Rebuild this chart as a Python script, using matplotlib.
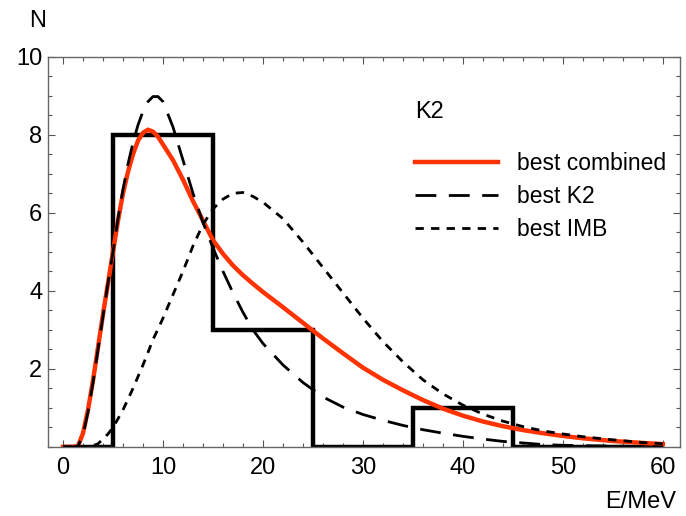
import numpy as np
import matplotlib
matplotlib.use("Agg")
import matplotlib.pyplot as plt
from matplotlib.ticker import MultipleLocator

plt.rcParams['font.family'] = ['Liberation Sans', 'DejaVu Sans']

# energy grid (MeV) for the read-off curves
energy = [0, 1, 1.5, 2, 2.5, 3, 3.5, 4, 4.5, 5, 5.5, 6, 6.5, 7, 7.5, 8, 8.5, 9, 9.5, 10,
          11, 12, 13, 14, 15, 16, 17, 18, 19, 20, 22, 24, 26, 28, 30, 32, 34, 36, 38, 40,
          42, 44, 46, 48, 50, 52, 55, 58, 60]
best_combined = [0, 0, 0.02, 0.35, 0.95, 1.7, 2.55, 3.4, 4.2, 5.0, 5.8, 6.5, 7.05, 7.5, 7.85, 8.05, 8.13, 8.08, 7.95, 7.75,
                 7.35, 6.85, 6.3, 5.8, 5.3, 4.95, 4.65, 4.4, 4.18, 3.97, 3.58, 3.18, 2.78, 2.4, 2.03, 1.72, 1.45, 1.2, 0.98, 0.8,
                 0.65, 0.53, 0.43, 0.35, 0.28, 0.22, 0.15, 0.1, 0.07]
best_k2 = [0, 0, 0.02, 0.3, 0.9, 1.65, 2.5, 3.35, 4.2, 5.0, 5.85, 6.6, 7.25, 7.8, 8.25, 8.6, 8.85, 8.98, 8.98, 8.85,
           8.2, 7.35, 6.5, 5.75, 5.1, 4.5, 3.95, 3.45, 3.0, 2.65, 2.1, 1.65, 1.28, 1.02, 0.83, 0.68, 0.55, 0.44, 0.35, 0.27,
           0.2, 0.14, 0.1, 0.06, 0.04, 0.03, 0.02, 0.01, 0.0]
best_imb = [0, 0, 0, 0, 0.01, 0.03, 0.08, 0.2, 0.33, 0.5, 0.72, 0.95, 1.22, 1.5, 1.8, 2.1, 2.42, 2.75, 3.02, 3.3,
            3.9, 4.5, 5.15, 5.7, 6.1, 6.35, 6.5, 6.52, 6.42, 6.27, 5.85, 5.25, 4.6, 3.95, 3.3, 2.7, 2.18, 1.72, 1.36, 1.07,
            0.84, 0.66, 0.52, 0.41, 0.33, 0.26, 0.18, 0.11, 0.08]

# K2 event histogram
bin_edges = [0, 5, 15, 25, 35, 45, 60]
counts = [0, 8, 3, 0, 1, 0]

fig = plt.figure(figsize=(6.86, 5.16), dpi=100)
ax = fig.add_axes([0.070, 0.134, 0.921, 0.756])

ax.stairs(counts, bin_edges, color='black', lw=3.2, zorder=2)
ax.plot(energy, best_combined, color='#ff3300', lw=3.2, label='best combined', zorder=3)
ax.plot(energy, best_k2, color='black', lw=2, dashes=(7.5, 4.5), label='best K2', zorder=4)
ax.plot(energy, best_imb, color='black', lw=2, dashes=(3, 2.6), label='best IMB', zorder=5)

ax.set_xlim(-1.5, 61.7)
ax.set_ylim(0, 10)
ax.set_xticks([0, 10, 20, 30, 40, 50, 60])
ax.set_yticks([2, 4, 6, 8, 10])
ax.xaxis.set_minor_locator(MultipleLocator(2))
ax.yaxis.set_minor_locator(MultipleLocator(0.5))
ax.tick_params(which='both', direction='in', top=True, right=True, color='#555555', width=0.8,
               labelsize=17)
ax.tick_params(which='major', length=5)
ax.tick_params(which='minor', length=3)
ax.tick_params(axis='x', pad=7)
ax.tick_params(axis='y', pad=4)
for s in ax.spines.values():
    s.set_color('#666666')
    s.set_linewidth(1)

ax.legend(loc='upper left', bbox_to_anchor=(0.605, 0.706), bbox_transform=fig.transFigure,
          frameon=False, fontsize=16.5, handlelength=3.6, handletextpad=0.83,
          labelspacing=0.45, borderpad=0, borderaxespad=0)
fig.text(415 / 686, 1 - 112 / 516, 'K2', fontsize=17, va='center', ha='left')

fig.text(29 / 686, 1 - 27 / 516, 'N', fontsize=17, va='baseline')
fig.text(605 / 686, 1 - 508 / 516, 'E/MeV', fontsize=17, va='baseline')

fig.savefig('out.png', dpi=100)
